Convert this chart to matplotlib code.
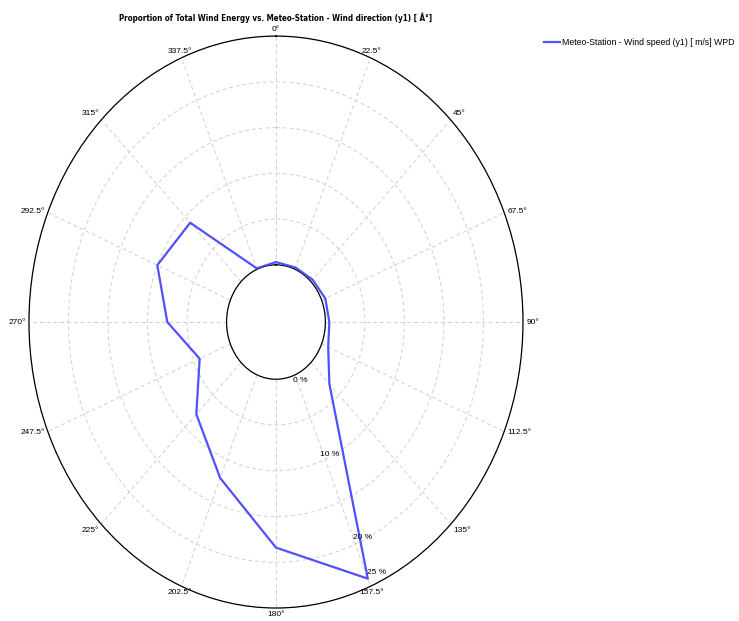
import numpy as np
import matplotlib
matplotlib.use("Agg")
import matplotlib.pyplot as plt
from matplotlib import font_manager

# Share of total wind energy per direction sector
directions_deg = [0, 22.5, 45, 67.5, 90, 112.5, 135, 157.5,
                  180, 202.5, 225, 247.5, 270, 292.5, 315, 337.5]
energy_pct = [0.3, 0.2, 0.3, 0.5, 0.5, 0.9, 3.3, 24.1,
              18.4, 12.2, 8.0, 4.2, 7.5, 10.0, 9.1, 0.1]
ring_values = [0, 5, 10, 15, 20, 25]
ring_label_values = [0, 10, 20, 25]
direction_labels = [f"{d:g}°" for d in directions_deg]
series_name = "Meteo-Station - Wind speed (y1) [ m/s] WPD"
title = "Proportion of Total Wind Energy vs. Meteo-Station - Wind direction (y1) [ Â°]"

plt.rcParams["font.family"] = ["Liberation Sans", "DejaVu Sans"]

# a condensed bold face for the title, if one is installed
condensed_family = None
condensed_stretch = "normal"
for f in font_manager.fontManager.ttflist:
    if f.stretch in ("condensed", "semi-condensed") and f.weight in (700, "bold"):
        if f.name in ("Liberation Sans Narrow", "DejaVu Sans", "Roboto",
                      "Roboto Condensed", "Open Sans", "Open Sans Condensed"):
            condensed_family = f.name
            condensed_stretch = f.stretch
            break

R_MAX = 25.0
HOLE = 6.25

fig = plt.figure(figsize=(7.39, 6.21), dpi=100)
ax = fig.add_axes([0.0392, 0.0209, 0.6685, 0.921], projection="polar")
ax.set_aspect("auto")
ax.set_theta_zero_location("N")
ax.set_theta_direction(-1)
ax.set_rlim(0, R_MAX)
ax.set_rorigin(-HOLE)

theta = np.deg2rad(directions_deg + [directions_deg[0]])
r = energy_pct + [energy_pct[0]]
ax.plot(theta, r, color="#5050ff", lw=1.6, label=series_name, zorder=3)

ax.set_xticks(np.deg2rad(directions_deg))
ax.set_xticklabels([])
ax.set_yticks(ring_values)
ax.set_yticklabels([])
ax.grid(True, color="#d0d0d0", ls=(0, (4, 3)), lw=0.7)
for side in ("polar", "inner"):
    if side in ax.spines:
        ax.spines[side].set_color("black")
        ax.spines[side].set_linewidth(0.9)

# direction labels just outside the outer ring
for d, lab in zip(directions_deg, direction_labels):
    s, c = np.sin(np.deg2rad(d)), np.cos(np.deg2rad(d))
    if abs(s) < 0.5:
        ha = "center"
    else:
        ha = "left" if s > 0 else "right"
    if abs(c) < 0.5:
        va = "center"
    else:
        va = "bottom" if c > 0 else "top"
    ax.annotate(lab, xy=(np.deg2rad(d), R_MAX), xytext=(2.5 * s, 2.5 * c),
                textcoords="offset points", ha=ha, va=va, fontsize=6,
                annotation_clip=False)

# percentage labels along the 155 degree ray
label_angle = np.deg2rad(155)
for v in ring_label_values:
    shift = 5.5 if v == 0 else (-7 if v == R_MAX else -1.5)
    ax.annotate(f"{v:g} %", xy=(label_angle, v),
                xytext=(shift * np.sin(label_angle), shift * np.cos(label_angle)),
                textcoords="offset points", ha="center", va="center",
                fontsize=6, annotation_clip=False, zorder=4)

title_kw = dict(fontweight="bold", fontsize=8.5)
if condensed_family:
    title_kw["family"] = [condensed_family, "DejaVu Sans"]
    title_kw["fontstretch"] = condensed_stretch
title_artist = fig.text(276 / 739, 1 - 18 / 621, title, ha="center", va="center",
                        **title_kw)

# fit the title to its intended width
renderer = fig.canvas.get_renderer()
target_px = 310.0
for _ in range(3):
    w = title_artist.get_window_extent(renderer).width
    title_artist.set_fontsize(title_artist.get_fontsize() * target_px / w)

fig.legend(loc="upper left", bbox_to_anchor=(544 / 739, 1 - 38 / 621),
           frameon=False, fontsize=6.3, handlelength=1.8, handletextpad=0.3,
           borderaxespad=0, borderpad=0)

fig.savefig("out.png", dpi=100)
